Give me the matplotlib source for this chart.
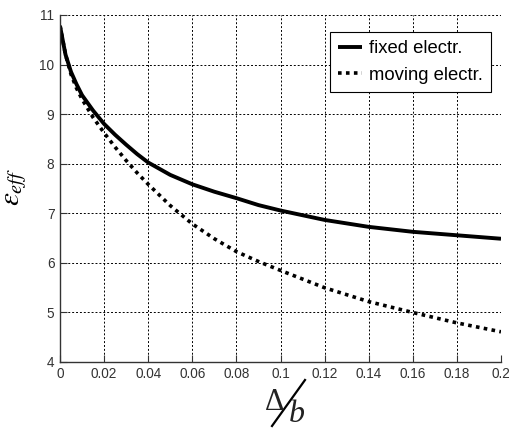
import numpy as np
import matplotlib
matplotlib.use('Agg')
from matplotlib import pyplot as plt
from matplotlib.lines import Line2D

plt.rcParams['font.family'] = ['Liberation Sans', 'DejaVu Sans']
plt.rcParams['mathtext.fontset'] = 'stix'

# values
delta_b = [0, 0.0025, 0.005, 0.0075, 0.01, 0.015, 0.02, 0.025, 0.03, 0.035, 0.04,
           0.05, 0.06, 0.07, 0.08, 0.09, 0.1, 0.12, 0.14, 0.16, 0.18, 0.2]
eps_fixed = [10.78, 10.2, 9.85, 9.6, 9.38, 9.07, 8.8, 8.58, 8.38, 8.19, 8.02,
             7.77, 7.58, 7.43, 7.30, 7.16, 7.05, 6.86, 6.72, 6.62, 6.55, 6.48]
eps_moving = [10.78, 10.2, 9.8, 9.52, 9.3, 8.93, 8.62, 8.33, 8.06, 7.81, 7.58,
              7.15, 6.78, 6.48, 6.22, 6.02, 5.84, 5.49, 5.21, 4.99, 4.78, 4.6]
series_labels = ['fixed electr.', 'moving electr.']
x_ticks = [0, 0.02, 0.04, 0.06, 0.08, 0.1, 0.12, 0.14, 0.16, 0.18, 0.2]
x_tick_labels = ['0', '0.02', '0.04', '0.06', '0.08', '0.1', '0.12', '0.14', '0.16', '0.18', '0.2']
y_ticks = [4, 5, 6, 7, 8, 9, 10, 11]

W, H = 509, 429
fig = plt.figure(figsize=(W / 100, H / 100), dpi=100)
ax = fig.add_axes([60 / W, 1 - 361.5 / H, 441 / W, 346.5 / H])

ax.plot(delta_b, eps_fixed, color='black', lw=2.8, solid_capstyle='butt', label=series_labels[0])
ax.plot(delta_b, eps_moving, color='black', lw=2.6, linestyle=(0, (1, 1.2)), label=series_labels[1])

ax.set_xlim(0, 0.2)
ax.set_ylim(4, 11)
ax.set_xticks(x_ticks)
ax.set_xticklabels(x_tick_labels)
ax.set_yticks(y_ticks)
ax.grid(True, color='black', linestyle=(0, (2, 2)), lw=0.7)
for side in ['top', 'right']:
    ax.spines[side].set_visible(False)
for side in ['left', 'bottom']:
    ax.spines[side].set_color('#333333')
    ax.spines[side].set_linewidth(1.0)
ax.tick_params(direction='in', length=5, width=0.8, color='#333333',
               labelcolor='#333333', labelsize=9.8, pad=4)

leg = ax.legend(loc='upper right', bbox_to_anchor=(0.977, 0.951), borderaxespad=0,
                fontsize=13.3, handlelength=1.3, handletextpad=0.35, borderpad=0.45,
                labelspacing=0.5, fancybox=False, framealpha=1)
leg.get_frame().set_edgecolor('black')
leg.get_frame().set_linewidth(0.8)

# y label
fig.text(15 / W, 1 - 187 / H, r'$\varepsilon_{eff}$', rotation=90, fontsize=21,
         ha='center', va='center')

# x label drawn as slashed fraction
fig.text(275 / W, 1 - 410 / H, '\u0394', family='Liberation Serif', fontsize=22,
         ha='center', va='baseline', color='#222222')
fig.text(297 / W, 1 - 422 / H, 'b', family='Liberation Serif', style='italic',
         fontsize=23, ha='center', va='baseline', color='#222222')
fig.add_artist(Line2D([272 / W, 305 / W], [1 - 426 / H, 1 - 380 / H],
                      transform=fig.transFigure, color='black', lw=1.6))

fig.savefig('out.png', dpi=100)
